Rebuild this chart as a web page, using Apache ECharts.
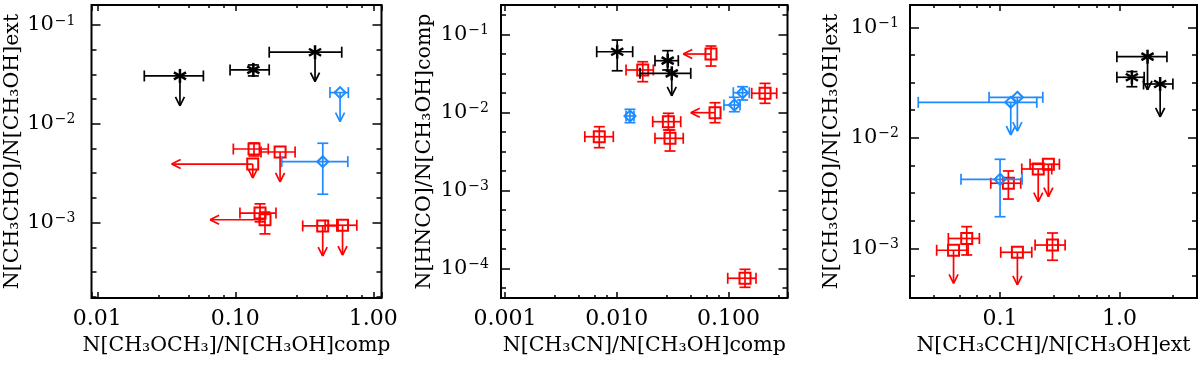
<!DOCTYPE html>
<html>
<head>
<meta charset="utf-8">
<script src="https://cdn.jsdelivr.net/npm/echarts@6/dist/echarts.min.js"></script>
<style>
  html, body { margin: 0; padding: 0; background: #fff; }
  #main { width: 1200px; height: 365px; }
</style>
</head>
<body>
<div id="main"></div>
<script>
// row: x, y, xLow, xHigh, yLow, yHigh, xLimitTip, yLimitTip  (null = not drawn)
const p1Black = [
  [0.0397, 0.0305, 0.0219, 0.0587, null, null, null, 0.0152],
  [0.135, 0.0351, 0.0916, 0.176, 0.0305, 0.0394, null, null],
  [0.378, 0.053, 0.176, 0.590, null, null, null, 0.0267]
];
const p1Blue = [
  [0.574, 0.0207, 0.485, 0.659, null, null, null, 0.0105],
  [0.430, 0.00414, 0.217, 0.653, 0.00194, 0.00636, null, null]
];
const p1Red = [
  [0.1366, 0.00556, 0.0967, 0.1733, 0.00473, 0.0064, null, null],
  [0.1337, 0.00392, null, null, null, null, 0.0346, 0.00283],
  [0.211, 0.00519, 0.1535, 0.271, null, null, null, 0.00258],
  [0.151, 0.00125, 0.108, 0.197, 0.00102, 0.00155, null, null],
  [0.164, 0.00107, null, null, 0.00077, 0.00128, 0.0656, null],
  [0.4296, 0.000926, 0.3077, 0.555, null, null, null, 0.00046],
  [0.598, 0.000942, 0.447, 0.759, null, null, null, 0.00047]
];

const p2Black = [
  [0.0101, 0.0598, 0.00662, 0.0139, 0.0341, 0.0845, null, null],
  [0.0286, 0.0459, 0.0220, 0.0356, 0.0349, 0.0617, null, null],
  [0.0311, 0.0316, 0.01617, 0.046, null, null, null, 0.0162]
];
const p2Blue = [
  [0.01315, 0.00897, 0.01212, 0.01428, 0.00736, 0.01093, null, null],
  [0.113, 0.0124, 0.0912, 0.127, 0.01018, 0.01557, null, null],
  [0.134, 0.01783, 0.1106, 0.1538, 0.01438, 0.0213, null, null]
];
const p2Red = [
  [0.0698, 0.0559, null, null, 0.0392, 0.0708, 0.0394, null],
  [0.0171, 0.0349, 0.01212, 0.02127, 0.0247, 0.0445, null, null],
  [0.2127, 0.01753, 0.1618, 0.2706, 0.01305, 0.0235, null, null],
  [0.0759, 0.00989, null, null, 0.00736, 0.01327, 0.046, null],
  [0.029, 0.00758, 0.021, 0.0374, 0.00593, 0.00971, null, null],
  [0.030, 0.00464, 0.0220, 0.0394, 0.00319, 0.00593, null, null],
  [0.00698, 0.00487, 0.00518, 0.00932, 0.00352, 0.00654, null, null],
  [0.1408, 0.0000745, 0.0986, 0.1766, 0.000057, 0.000097, null, null]
];

const p3Black = [
  [1.717, 0.0542, 0.951, 2.496, null, null, null, 0.0271],
  [1.27, 0.0353, 0.951, 1.61, 0.029, 0.0397, null, null],
  [2.19, 0.0307, 1.59, 2.80, null, null, null, 0.0155]
];
const p3Blue = [
  [0.1229, 0.02095, 0.02066, 0.203, null, null, null, 0.0106],
  [0.1396, 0.02326, 0.0809, 0.228, null, null, null, 0.01151],
  [0.1, 0.00421, 0.0471, 0.153, 0.00193, 0.00639, null, null]
];
const p3Red = [
  [0.1174, 0.00388, 0.0836, 0.149, 0.00279, 0.00501, null, null],
  [0.2088, 0.00522, 0.152, 0.271, null, null, null, 0.00264],
  [0.254, 0.00576, 0.1784, 0.314, null, null, null, 0.00293],
  [0.0408, 0.00096, 0.02946, 0.054, null, null, null, 0.000482],
  [0.0526, 0.001227, 0.0369, 0.0671, 0.00087, 0.00157, null, null],
  [0.1397, 0.00092, 0.1013, 0.1843, null, null, null, 0.000466],
  [0.2748, 0.00107, 0.1965, 0.3507, 0.000779, 0.001375, null, null]
];

// axis ranges as log10 exponents
const xRanges = [[-2.042, 0.059], [-3.036, -0.471], [-1.754, 0.649]];
const yRanges = [[-3.762, -0.798], [-4.381, -0.624], [-3.450, -0.798]];
const xDecimals = [2, 3, 1];
const xNames = ['N[CH₃OCH₃]/N[CH₃OH]comp', 'N[CH₃CN]/N[CH₃OH]comp', 'N[CH₃CCH]/N[CH₃OH]ext'];
const yNames = ['N[CH₃CHO]/N[CH₃OH]ext', 'N[HNCO]/N[CH₃OH]comp', 'N[CH₃CHO]/N[CH₃OH]ext'];

const FONT = 'DejaVu Serif';
const RED = '#ff0000', BLUE = '#1e8cff', BLACK = '#000000';

const gridBoxes = [
  { left: 91.5, width: 290 },
  { left: 501, width: 286.5 },
  { left: 910, width: 287 }
];
const yLabelMargin = [16, 12, 11];
const yNameGap = [67, 66, 68];

function isDecade(v) {
  const e = Math.log10(v);
  return Math.abs(e - Math.round(e)) < 1e-6;
}

function makeRender(rows, marker, color) {
  return function (params, api) {
    const r = rows[params.dataIndex];
    const c = api.coord([r[0], r[1]]);
    const st = { stroke: color, lineWidth: 1.7, fill: 'none' };
    const kids = [];
    const seg = function (x1, y1, x2, y2) {
      kids.push({ type: 'line', shape: { x1: x1, y1: y1, x2: x2, y2: y2 }, style: st });
    };
    const cap = 5.5;
    if (r[2] != null) {
      const a = api.coord([r[2], r[1]])[0], b = api.coord([r[3], r[1]])[0];
      seg(a, c[1], b, c[1]);
      seg(a, c[1] - cap, a, c[1] + cap);
      seg(b, c[1] - cap, b, c[1] + cap);
    }
    if (r[4] != null) {
      const a = api.coord([r[0], r[4]])[1], b = api.coord([r[0], r[5]])[1];
      seg(c[0], a, c[0], b);
      seg(c[0] - cap, a, c[0] + cap, a);
      seg(c[0] - cap, b, c[0] + cap, b);
    }
    if (r[6] != null) {
      const t = api.coord([r[6], r[1]])[0];
      const d = t < c[0] ? 1 : -1;
      seg(c[0], c[1], t, c[1]);
      seg(t + d * 9, c[1] - 4.5, t, c[1]);
      seg(t, c[1], t + d * 9, c[1] + 4.5);
    }
    if (r[7] != null) {
      const t = api.coord([r[0], r[7]])[1];
      seg(c[0], c[1], c[0], t);
      seg(c[0] - 4.5, t - 9, c[0], t);
      seg(c[0], t, c[0] + 4.5, t - 9);
    }
    const mst = { stroke: color, lineWidth: 2, fill: 'none' };
    if (marker === 'square') {
      kids.push({ type: 'rect', shape: { x: c[0] - 5.5, y: c[1] - 5.5, width: 11, height: 11 }, style: mst });
    } else if (marker === 'diamond') {
      kids.push({ type: 'polygon', shape: { points: [[c[0], c[1] - 5.5], [c[0] + 5.5, c[1]], [c[0], c[1] + 5.5], [c[0] - 5.5, c[1]]] }, style: mst });
    } else {
      const s = 7;
      [90, 30, 150].forEach(function (deg) {
        const a = deg * Math.PI / 180;
        kids.push({ type: 'line', shape: { x1: c[0] - s * Math.cos(a), y1: c[1] - s * Math.sin(a), x2: c[0] + s * Math.cos(a), y2: c[1] + s * Math.sin(a) }, style: { stroke: color, lineWidth: 2.5 } });
      });
    }
    return { type: 'group', children: kids };
  };
}

const tickLine = { color: '#000', width: 1.5 };
const grid = [], xAxis = [], yAxis = [], series = [];
const panels = [
  [p1Black, p1Blue, p1Red],
  [p2Black, p2Blue, p2Red],
  [p3Black, p3Blue, p3Red]
];

panels.forEach(function (groups, i) {
  grid.push({
    left: gridBoxes[i].left, width: gridBoxes[i].width, top: 5, height: 293,
    show: true, borderColor: '#000', borderWidth: 2, backgroundColor: 'transparent',
    containLabel: false, outerBoundsMode: 'none'
  });
  const xr = xRanges[i], yr = yRanges[i];
  ['bottom', 'top'].forEach(function (pos) {
    xAxis.push({
      type: 'log', gridIndex: i, position: pos,
      min: Math.pow(10, xr[0]), max: Math.pow(10, xr[1]),
      axisLine: { show: false, onZero: false }, splitLine: { show: false },
      axisTick: { inside: true, length: 6, lineStyle: tickLine },
      minorTick: { show: true, splitNumber: 5, length: 3, lineStyle: tickLine },
      axisLabel: pos === 'bottom' ? {
        fontFamily: FONT, fontSize: 22, color: '#000', margin: 10,
        formatter: function (v) { return isDecade(v) ? v.toFixed(xDecimals[i]) : ''; }
      } : { show: false },
      name: pos === 'bottom' ? xNames[i] : '',
      nameLocation: 'middle', nameGap: 37,
      nameTextStyle: { fontFamily: FONT, fontSize: 20.5, color: '#000' }
    });
  });
  ['left', 'right'].forEach(function (pos) {
    yAxis.push({
      type: 'log', gridIndex: i, position: pos,
      min: Math.pow(10, yr[0]), max: Math.pow(10, yr[1]),
      axisLine: { show: false, onZero: false }, splitLine: { show: false },
      axisTick: { inside: true, length: 9, lineStyle: tickLine },
      axisLabel: pos === 'left' ? {
        fontFamily: FONT, fontSize: 21, color: '#000', margin: yLabelMargin[i],
        formatter: function (v) {
          if (!isDecade(v)) return '';
          const e = Math.round(Math.log10(v));
          return '10{sup|' + (e < 0 ? '\u2212' + (-e) : e) + '}';
        },
        rich: { sup: { fontFamily: FONT, fontSize: 14, color: '#000', verticalAlign: 'top', padding: [0, 0, 8, 1] } }
      } : { show: false },
      name: pos === 'left' ? yNames[i] : '',
      nameLocation: 'middle', nameGap: yNameGap[i],
      nameTextStyle: { fontFamily: FONT, fontSize: 20.5, color: '#000' }
    });
  });
  ['left', 'right'].forEach(function (pos) {
    // quarter-decade minor ticks, drawn in log10 space
    yAxis.push({
      type: 'value', gridIndex: i, position: pos,
      min: yr[0], max: yr[1], splitNumber: 3,
      axisLine: { show: false, onZero: false }, splitLine: { show: false },
      axisTick: { show: false, inside: true },
      axisLabel: { show: false },
      minorTick: { show: true, splitNumber: 4, length: 5, lineStyle: tickLine },
      minorSplitLine: { show: false }
    });
  });
  const styles = [['asterisk', BLACK], ['diamond', BLUE], ['square', RED]];
  [2, 1, 0].forEach(function (g) {
    const rows = groups[g];
    series.push({
      type: 'custom', xAxisIndex: 2 * i, yAxisIndex: 4 * i,
      data: rows.map(function (r) { return [r[0], r[1]]; }),
      encode: { x: 0, y: 1 },
      clip: false, silent: true,
      renderItem: makeRender(rows, styles[g][0], styles[g][1])
    });
  });
});

const chart = echarts.init(document.getElementById('main'));
chart.setOption({
  animation: false,
  backgroundColor: '#fff',
  grid: grid, xAxis: xAxis, yAxis: yAxis, series: series
});
</script>
</body>
</html>
